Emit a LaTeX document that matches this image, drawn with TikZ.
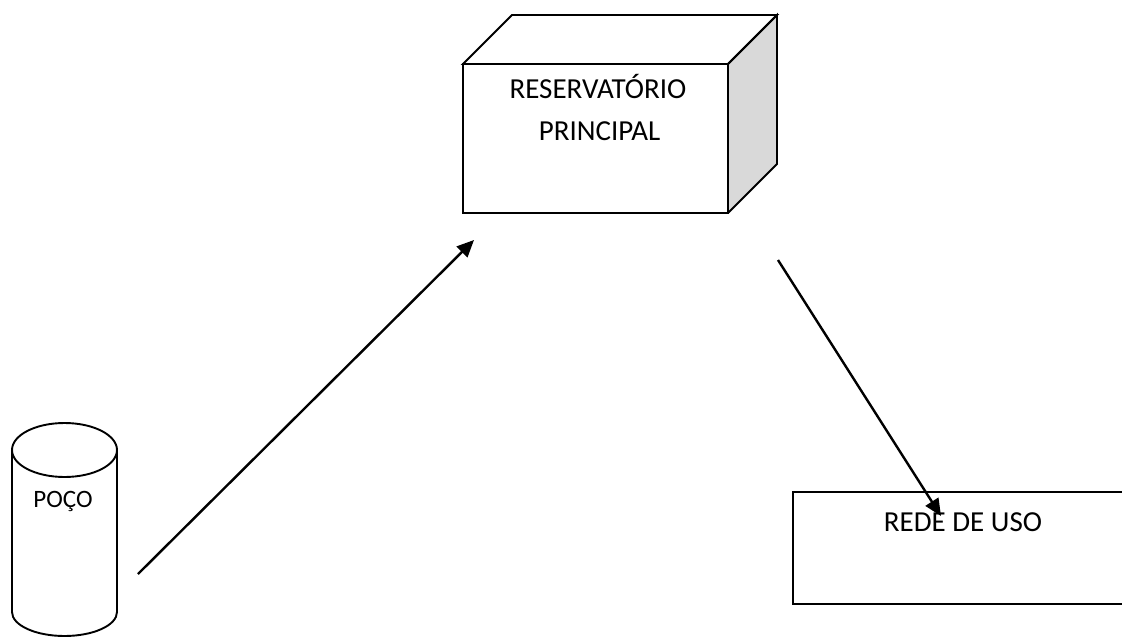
\documentclass[tikz,border=0pt]{standalone}
\usepackage{fontspec}
\setmainfont{Carlito}
\usetikzlibrary{arrows.meta}
\definecolor{sidegray}{RGB}{217,217,217}
\begin{document}
\begin{tikzpicture}[x=1pt,y=-1pt,
  outline/.style={draw=black,line width=1.9pt,line join=miter},
  label/.style={anchor=base,inner sep=0pt,font=\fontsize{29}{35}\selectfont},
  smalllabel/.style={anchor=base,inner sep=0pt,font=\fontsize{25}{30}\selectfont},
  flow/.style={draw=black,line width=2.4pt,-{Triangle[length=17pt,width=15pt]}}]
\useasboundingbox (0,0) rectangle (1122,637);
% cube
\fill[sidegray] (728,64) -- (777,15) -- (777,164) -- (728,213) -- cycle;
\draw[outline,fill=white] (463,64) -- (512,15) -- (777,15) -- (728,64) -- cycle;
\draw[outline] (463,64) rectangle (728,213);
\draw[outline] (728,64) -- (777,15) -- (777,164) -- (728,213);
\node[label] (res1) at (598,98) {RESERVATÓRIO};
\node[label] (res2) at (599.5,140) {PRINCIPAL};
% cylinder
\draw[outline] (12,450) -- (12,612) arc[start angle=180,end angle=0,x radius=52.5,y radius=24] -- (117,450);
\draw[outline] (64.5,450) ellipse [x radius=52.5,y radius=27];
\node[smalllabel] (poco) at (63,507) {POÇO};
% rede de uso
\draw[outline,line width=1.6pt] (1130,492) -- (793,492) -- (793,604) -- (1130,604);
\node[label] (rede) at (963,531) {REDE DE USO};
% arrows
\coordinate (a1s) at (138,574);
\coordinate (a1e) at (474,240);
\coordinate (a2s) at (778,260);
\coordinate (a2e) at (941,516);
\draw[flow] (a1s) -- (a1e);
\draw[flow] (a2s) -- (a2e);
\end{tikzpicture}
\end{document}
